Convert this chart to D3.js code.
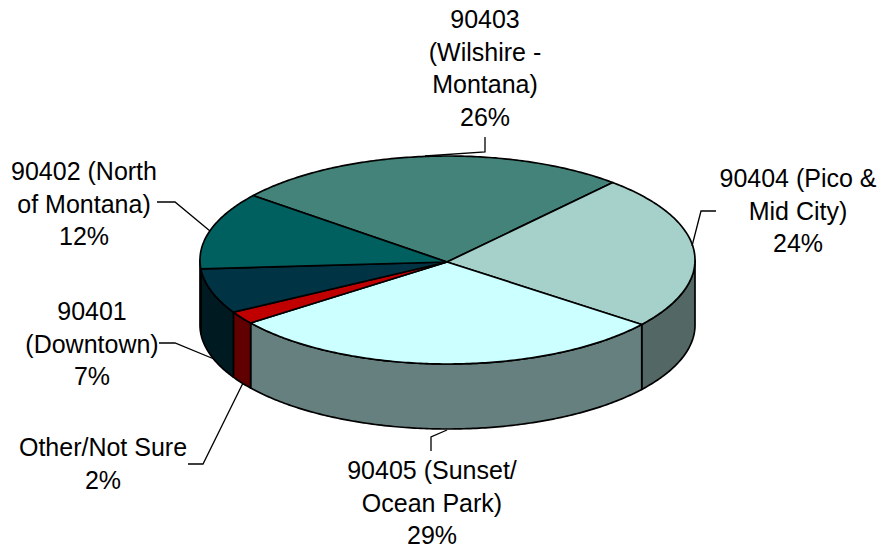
<!DOCTYPE html>
<html>
<head>
<meta charset="utf-8">
<style>
html,body{margin:0;padding:0;background:#fff;}
svg{display:block;}
text{font-family:"Liberation Sans",Arial,sans-serif;font-size:25px;fill:#000;text-anchor:middle;}
</style>
<script src="https://cdn.jsdelivr.net/npm/d3@7"></script>
</head>
<body>
<svg id="chart" width="882" height="550"></svg>
<script>
// Share of respondents by ZIP code area, in percent.
const areas = ["90403","90404","90405","Other","90401","90402"];
const shares = [26,24,29,2,7,12];
const topColors = ["#43837a","#a6d1cb","#ccffff","#c00000","#003344","#006060"];
const sideColors = ["#223d3a","#536865","#668080","#600000","#001a22","#003030"];

const labelLines = [
  ["90403","(Wilshire -","Montana)","26%"],
  ["90404 (Pico &","Mid City)","24%"],
  ["90405 (Sunset/","Ocean Park)","29%"],
  ["Other/Not Sure","2%"],
  ["90401","(Downtown)","7%"],
  ["90402 (North","of Montana)","12%"]
];

// Label block centres (first baseline) and leader routes, in page pixels.
const labelAnchors = [[485,28],[798,187],[432,479],[103,456],[92,320],[84,180]];
const leaderRoutes = [
  [[485,137],[485,152],[425,156]],
  [[716,211],[701,211],[692,246]],
  [[431,451],[431,437],[447,430]],
  [[188,464],[203,464],[243,383]],
  [[159,343],[175,343],[214,359]],
  [[157,202],[175,202],[210,231]]
];

const centerX = 447.5, centerY = 260, radiusX = 247.5, radiusY = 104, depth = 65;
const apex = [447, 262];
const lineLayout = 32.7;
const startDegrees = 308.3;

const svg = d3.select("#chart");
const pie = d3.pie().sort(null).startAngle(startDegrees*Math.PI/180).endAngle((startDegrees+360)*Math.PI/180);
const slices = pie(shares);

// Angle measured clockwise from the top of the ellipse.
const rim = (a, drop=0) => [centerX + radiusX*Math.sin(a), centerY - radiusY*Math.cos(a) + drop];
const arcAngles = (a0, a1) => d3.range(0, 1.0001, 1/Math.max(2, Math.ceil((a1-a0)*80))).map(t => a0 + (a1-a0)*t);
const line = d3.line();

// Walls: only the front half of the cylinder (90 to 270 degrees) faces the viewer.
const frontStart = Math.PI/2, frontEnd = 3*Math.PI/2, turn = 2*Math.PI;
const wallSpans = [];
slices.forEach((s,i) => {
  [0, turn].forEach(k => {
    const a0 = Math.max(s.startAngle - k, frontStart), a1 = Math.min(s.endAngle - k, frontEnd);
    if (a1 > a0) wallSpans.push({i, a0, a1});
  });
});
svg.append("g").selectAll("path").data(wallSpans).join("path")
  .attr("d", d => {
    const angles = arcAngles(d.a0, d.a1);
    return line(angles.map(a => rim(a)).concat(angles.slice().reverse().map(a => rim(a, depth)))) + "Z";
  })
  .attr("fill", d => sideColors[d.i])
  .attr("stroke", "#000").attr("stroke-width", 1.7).attr("stroke-linejoin", "round");

// Top faces.
svg.append("g").selectAll("path").data(slices).join("path")
  .attr("d", s => line([apex].concat(arcAngles(s.startAngle, s.endAngle).map(a => rim(a)))) + "Z")
  .attr("fill", (s,i) => topColors[i])
  .attr("stroke", "#000").attr("stroke-width", 1.7).attr("stroke-linejoin", "round");

// Leader lines.
svg.append("g").selectAll("path").data(leaderRoutes).join("path")
  .attr("d", line).attr("fill", "none").attr("stroke", "#000").attr("stroke-width", 1.3);

// Labels.
const labels = svg.append("g").selectAll("text").data(labelLines).join("text")
  .attr("transform", (d,i) => `translate(${labelAnchors[i][0]},${labelAnchors[i][1]})`);
labels.selectAll("tspan").data(d => d).join("tspan")
  .attr("x", 0).attr("y", (d,i) => i*lineLayout).text(d => d);
</script>
</body>
</html>
